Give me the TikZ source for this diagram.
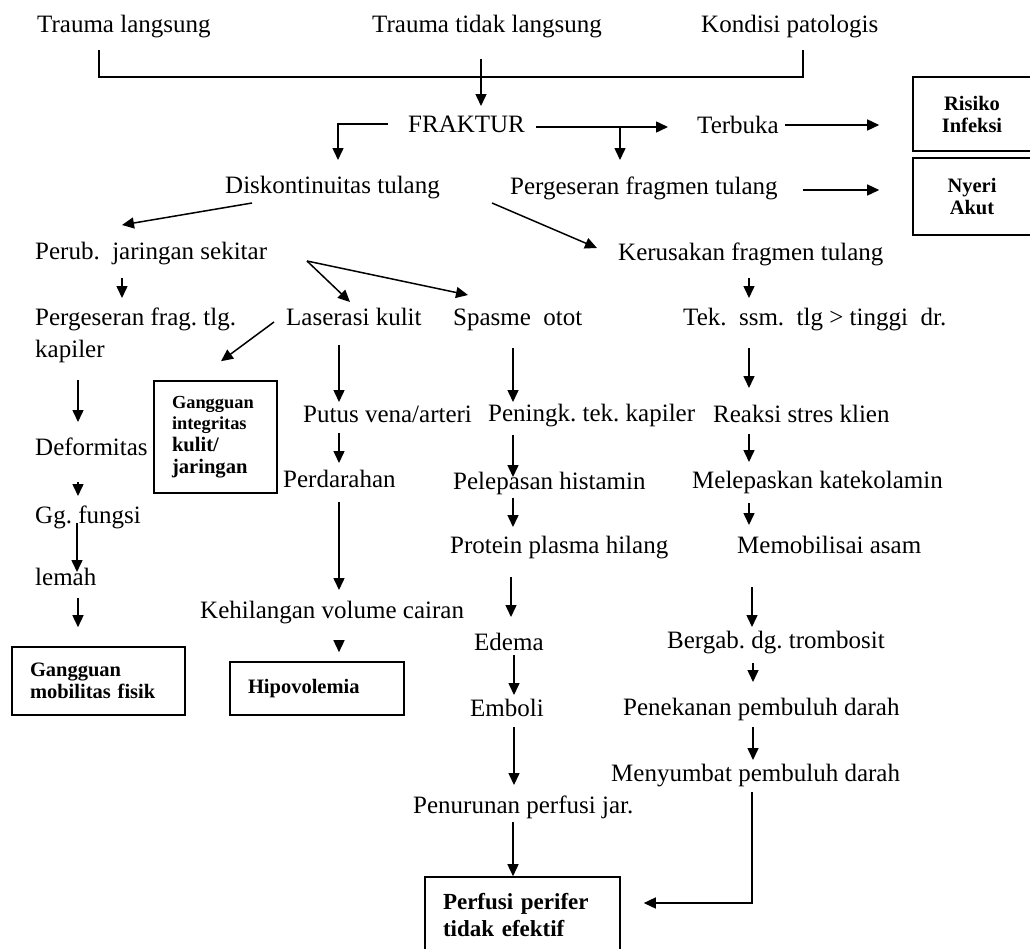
\documentclass[tikz,border=0pt]{standalone}
\usepackage{fontspec}
\setmainfont{Liberation Serif}
\usetikzlibrary{arrows.meta}
\frenchspacing
\begin{document}
\begin{tikzpicture}[x=1pt,y=-1pt,
  txt/.style={anchor=base west,inner sep=0pt,font=\fontsize{25}{30}\selectfont},
  box/.style={draw,line width=1.6pt,inner ysep=0pt,font=\bfseries\fontsize{20.5}{22}\selectfont},
  conn/.style={line width=1.5pt},
  arr/.style={conn,-{Triangle[length=12pt,width=11pt]}}]
\fill[white] (0,0) rectangle (1030,948);
\useasboundingbox (0,0) rectangle (1030,948);
% text nodes
\node[txt] (n1) at (37,32) {Trauma langsung};
\node[txt] (n2) at (372,32) {Trauma tidak langsung};
\node[txt] (n3) at (701,32) {Kondisi patologis};
\node[txt] (frak) at (408,132) {FRAKTUR};
\node[txt] (terb) at (697,133) {Terbuka};
\node[txt] (disk) at (225,193) {Diskontinuitas tulang};
\node[txt] (perg) at (510,194) {Pergeseran fragmen tulang};
\node[txt] (perub) at (35,259) {Perub.\ \ jaringan sekitar};
\node[txt] (kerus) at (618,260) {Kerusakan fragmen tulang};
\node[txt] (pfa) at (35,325) {Pergeseran frag. tlg.};
\node[txt] (pfb) at (35,357) {kapiler};
\node[txt] (lase) at (286,325) {Laserasi kulit};
\node[txt] (spas) at (453,325) {Spasme\ \ otot};
\node[txt] (tek) at (683,325) {Tek.\ \ ssm.\ \ tlg > tinggi\ \ dr.};
\node[txt] (defo) at (35,455) {Deformitas};
\node[txt] (putus) at (303,422) {Putus vena/arteri};
\node[txt] (pen) at (488,421) {Peningk. tek. kapiler};
\node[txt] (reak) at (713,422) {Reaksi stres klien};
\node[txt] (gg) at (35,523) {Gg. fungsi};
\node[txt] (perd) at (283,487) {Perdarahan};
\node[txt] (pele) at (453,489) {Pelepasan histamin};
\node[txt] (mele) at (692,488) {Melepaskan katekolamin};
\node[txt] (lemah) at (35,585) {lemah};
\node[txt] (prot) at (450,553) {Protein plasma hilang};
\node[txt] (memo) at (737,553) {Memobilisai asam};
\node[txt] (kehi) at (200,618) {Kehilangan volume cairan};
\node[txt] (edema) at (474,650) {Edema};
\node[txt] (berg) at (667,648) {Bergab. dg. trombosit};
\node[txt] (emb) at (470,716) {Emboli};
\node[txt] (pene) at (623,715) {Penekanan pembuluh darah};
\node[txt] (meny) at (611,781) {Menyumbat pembuluh darah};
\node[txt] (penu) at (413,813) {Penurunan perfusi jar.};
% boxes
\node[box,minimum width=118pt,minimum height=74pt,align=center] (risk) at (972,114) {Risiko\\Infeksi};
\node[box,minimum width=118pt,minimum height=77pt,align=center] (nyeri) at (972,196.5) {Nyeri\\Akut};
\node[box,text width=87pt,inner xsep=18pt,minimum height=112pt,align=left] (integ) at (215.5,437)
  {\fontsize{18.4}{21}\selectfont Gangguan\\integritas\\\fontsize{20.6}{22.5}\selectfont kulit/\\jaringan};
\node[box,text width=137pt,inner xsep=18pt,minimum height=68pt,align=left] (mob) at (98.5,681) {Gangguan\\mobilitas fisik};
\node[box,text width=138pt,inner xsep=18pt,minimum height=53pt,align=left] (hipo) at (317,688.5) {Hipovolemia};
\node[box,text width=159pt,inner xsep=18pt,minimum height=76pt,align=left,font=\bfseries\fontsize{23}{27}\selectfont] (perf) at (522.5,915) {Perfusi perifer\\tidak efektif\\[4pt]};
% connectors
\draw[conn] ([shift={(62,18)}]n1.base west) |- ([shift={(102,45)}]n3.base west) -- ([shift={(102,18)}]n3.base west);
\draw[arr] ([shift={(109,27)}]n2.base west) -- ([shift={(73,-26)}]frak.base west);
\draw[arr] ([shift={(-20,-8)}]frak.base west) -| ([shift={(113,-33)}]disk.base west);
\draw[arr] ([shift={(128,-5)}]frak.base west) -- ([shift={(-29,-6)}]terb.base west);
\draw[arr] ([shift={(212,-5)}]frak.base west) -- ([shift={(110,-34)}]perg.base west);
\draw[arr] ([shift={(88,-8)}]terb.base west) -- ([shift={(-33,11)}]risk.west);
\draw[arr] ([shift={(293,-4)}]perg.base west) -- ([shift={(-33,-6.5)}]nyeri.west);
\draw[arr] ([shift={(27,10)}]disk.base west) -- ([shift={(87,-34)}]perub.base west);
\draw[arr] ([shift={(267,10)}]disk.base west) -- ([shift={(-21,-12)}]kerus.base west);
\draw[arr] ([shift={(87,19)}]perub.base west) -- ([shift={(87,-27)}]pfa.base west);
\draw[arr] ([shift={(272,2)}]perub.base west) -- ([shift={(64,-23)}]lase.base west);
\draw[arr] ([shift={(272,2)}]perub.base west) -- ([shift={(15,-30)}]spas.base west);
\draw[arr] ([shift={(-12,-3)}]lase.base west) -- ([shift={(5.5,-19)}]integ.north);
\draw[arr] ([shift={(43,23)}]pfb.base west) -- ([shift={(43,-33)}]defo.base west);
\draw[arr] ([shift={(53,20)}]lase.base west) -- ([shift={(36,-20)}]putus.base west);
\draw[arr] ([shift={(60,23)}]spas.base west) -- ([shift={(25,-19)}]pen.base west);
\draw[arr] ([shift={(131,18)}]kerus.base west) -- ([shift={(66,-27)}]tek.base west);
\draw[arr] ([shift={(66,23)}]tek.base west) -- ([shift={(36,-34)}]reak.base west);
\draw[arr] ([shift={(43,27)}]defo.base west) -- ([shift={(43,-27)}]gg.base west);
\draw[arr] ([shift={(36,11)}]putus.base west) -- ([shift={(56,-24)}]perd.base west);
\draw[arr] ([shift={(25,14)}]pen.base west) -- ([shift={(60,-12)}]pele.base west);
\draw[arr] ([shift={(36,12)}]reak.base west) -- ([shift={(57,-26)}]mele.base west);
\draw[arr] ([shift={(42,0)}]gg.base west) -- ([shift={(42,-13)}]lemah.base west);
\draw[arr] ([shift={(60,9)}]pele.base west) -- ([shift={(63,-26)}]prot.base west);
\draw[arr] ([shift={(57,15)}]mele.base west) -- ([shift={(12,-28)}]memo.base west);
\draw[arr] ([shift={(43,13)}]lemah.base west) -- ([shift={(-20.5,-19)}]mob.north);
\draw[arr] ([shift={(56,15)}]perd.base west) -- ([shift={(139,-28)}]kehi.base west);
\draw[arr] ([shift={(61,24)}]prot.base west) -- ([shift={(37,-33)}]edema.base west);
\draw[arr] ([shift={(139,22)}]kehi.base west) -- ([shift={(22,-9)}]hipo.north);
\draw[arr] ([shift={(15,34)}]memo.base west) -- ([shift={(85,-21)}]berg.base west);
\draw[arr] ([shift={(40,5)}]edema.base west) -- ([shift={(44,-21)}]emb.base west);
\draw[arr] ([shift={(86,15)}]berg.base west) -- ([shift={(130,-33)}]pene.base west);
\draw[arr] ([shift={(44,11)}]emb.base west) -- ([shift={(101,-28)}]penu.base west);
\draw[arr] ([shift={(130,12)}]pene.base west) -- ([shift={(142,-21)}]meny.base west);
\draw[arr] ([shift={(100,9)}]penu.base west) -- ([shift={(-9.5,0)}]perf.north);
\draw[arr] ([shift={(141,11)}]meny.base west) |- ([shift={(23,-12)}]perf.east);
\end{tikzpicture}
\end{document}
